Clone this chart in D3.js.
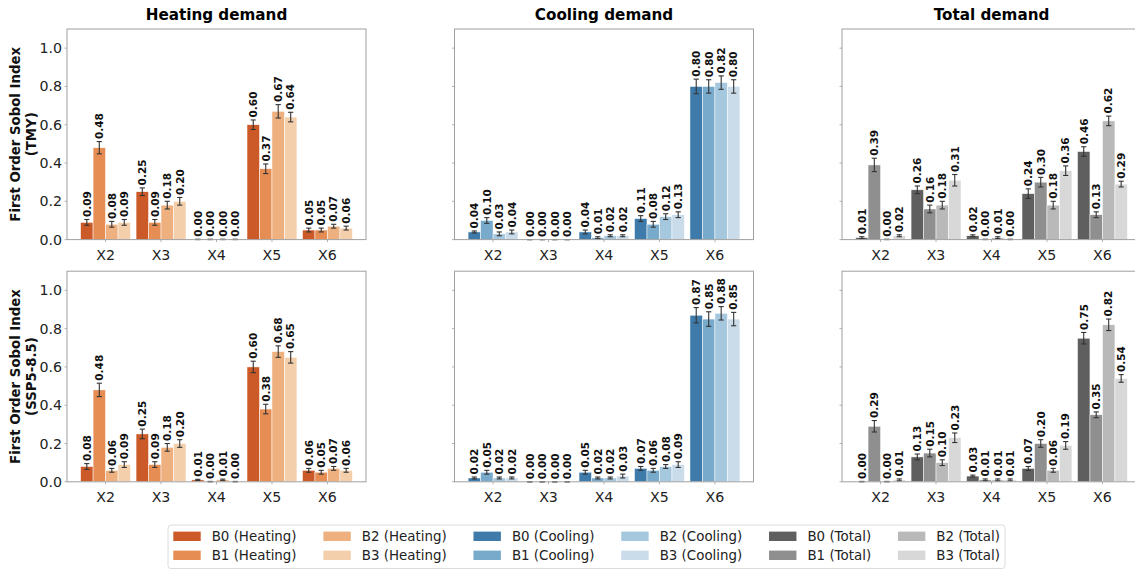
<!DOCTYPE html>
<html>
<head>
<meta charset="utf-8">
<script src="https://cdn.jsdelivr.net/npm/d3@7"></script>
<style>
  body { margin: 0; background: #fff; }
  svg { display: block; font-family: "DejaVu Sans", sans-serif; }
</style>
</head>
<body>
<svg id="chart" width="1135" height="571"></svg>
<script>
// ---------------- DATA ----------------
const categories = ["X2", "X3", "X4", "X5", "X6"];
const buildings = ["B0", "B1", "B2", "B3"];
const demandTitles = ["Heading demand".replace("Heading", "Heating"), "Cooling demand", "Total demand"];
const demandNames = ["Heating", "Cooling", "Total"];
const scenarioLabels = ["(TMY)", "(SSP5-8.5)"];
const yTicks = [0, 0.2, 0.4, 0.6, 0.8, 1.0];

// values[building][category]
const heatingTMY = [
  [0.09, 0.25, 0.00, 0.60, 0.05],
  [0.48, 0.09, 0.00, 0.37, 0.05],
  [0.08, 0.18, 0.00, 0.67, 0.07],
  [0.09, 0.20, 0.00, 0.64, 0.06]
];
const heatingTMYErr = [
  [0.015, 0.020, 0.002, 0.025, 0.010],
  [0.032, 0.015, 0.002, 0.025, 0.010],
  [0.015, 0.020, 0.002, 0.035, 0.010],
  [0.015, 0.020, 0.002, 0.025, 0.010]
];
const coolingTMY = [
  [0.04, 0.00, 0.04, 0.11, 0.80],
  [0.10, 0.00, 0.01, 0.08, 0.80],
  [0.03, 0.00, 0.02, 0.12, 0.82],
  [0.04, 0.00, 0.02, 0.13, 0.80]
];
const coolingTMYErr = [
  [0.005, 0.000, 0.010, 0.015, 0.038],
  [0.015, 0.000, 0.005, 0.015, 0.035],
  [0.010, 0.000, 0.005, 0.015, 0.035],
  [0.010, 0.000, 0.005, 0.015, 0.035]
];
const totalTMY = [
  [0.01, 0.26, 0.02, 0.24, 0.46],
  [0.39, 0.16, 0.00, 0.30, 0.13],
  [0.00, 0.18, 0.01, 0.18, 0.62],
  [0.02, 0.31, 0.00, 0.36, 0.29]
];
const totalTMYErr = [
  [0.005, 0.020, 0.005, 0.025, 0.025],
  [0.035, 0.020, 0.002, 0.025, 0.015],
  [0.002, 0.020, 0.005, 0.020, 0.025],
  [0.005, 0.030, 0.002, 0.025, 0.015]
];
const heatingSSP = [
  [0.08, 0.25, 0.01, 0.60, 0.06],
  [0.48, 0.09, 0.00, 0.38, 0.05],
  [0.06, 0.18, 0.01, 0.68, 0.07],
  [0.09, 0.20, 0.00, 0.65, 0.06]
];
const heatingSSPErr = [
  [0.015, 0.025, 0.003, 0.030, 0.010],
  [0.035, 0.015, 0.002, 0.025, 0.010],
  [0.010, 0.020, 0.004, 0.030, 0.010],
  [0.015, 0.020, 0.002, 0.030, 0.010]
];
const coolingSSP = [
  [0.02, 0.00, 0.05, 0.07, 0.87],
  [0.05, 0.00, 0.02, 0.06, 0.85],
  [0.02, 0.00, 0.02, 0.08, 0.88],
  [0.02, 0.00, 0.03, 0.09, 0.85]
];
const coolingSSPErr = [
  [0.005, 0.000, 0.010, 0.010, 0.040],
  [0.010, 0.000, 0.005, 0.010, 0.038],
  [0.005, 0.000, 0.005, 0.010, 0.035],
  [0.005, 0.000, 0.010, 0.015, 0.035]
];
const totalSSP = [
  [0.00, 0.13, 0.03, 0.07, 0.75],
  [0.29, 0.15, 0.01, 0.20, 0.35],
  [0.00, 0.10, 0.01, 0.06, 0.82],
  [0.01, 0.23, 0.01, 0.19, 0.54]
];
const totalSSPErr = [
  [0.002, 0.015, 0.005, 0.010, 0.030],
  [0.030, 0.020, 0.005, 0.020, 0.015],
  [0.002, 0.015, 0.005, 0.010, 0.030],
  [0.005, 0.025, 0.005, 0.020, 0.020]
];

const heatingColors = ["#cc5a28", "#e68d54", "#edb07e", "#f3cfab"];
const coolingColors = ["#3e7bab", "#78aacc", "#a5c8de", "#cadbea"];
const totalColors   = ["#5f5f5f", "#8f8f8f", "#b9b9b9", "#d8d8d8"];

// ---------------- LAYOUT ----------------
const svg = d3.select("#chart");
svg.append("rect").attr("width", 1135).attr("height", 571).attr("fill", "#fff");

const panelX = [67, 454.5, 842];
const panelY = [29, 271.2];
const panelW = 299;
const panelH = 210.6;
const barW = 0.225;
const tickColor = "#222";
const spineColor = "#a0a0a0";

const grid = [
  [[heatingTMY, heatingTMYErr], [coolingTMY, coolingTMYErr], [totalTMY, totalTMYErr]],
  [[heatingSSP, heatingSSPErr], [coolingSSP, coolingSSPErr], [totalSSP, totalSSPErr]]
];
const palettes = [heatingColors, coolingColors, totalColors];

const xmin = -2 * barW, xmax = categories.length - 1 + 2 * barW;
const marg = 0.05 * (xmax - xmin);
const fmt = d3.format(".2f");

grid.forEach((row, r) => {
  row.forEach(([vals, errs], c) => {
    const x0 = panelX[c], y0 = panelY[r];
    const x = d3.scaleLinear().domain([xmin - marg, xmax + marg]).range([x0, x0 + panelW]);
    const y = d3.scaleLinear().domain([0, 1.1]).range([y0 + panelH, y0]);
    const g = svg.append("g");

    // bars
    vals.forEach((series, b) => {
      const off = (b - 1.5) * barW;
      const color = palettes[c][b];
      const bg = g.append("g");
      bg.selectAll("rect").data(series).join("rect")
        .attr("x", (d, i) => x(i + off - barW / 2))
        .attr("width", x(barW) - x(0))
        .attr("y", d => y(d))
        .attr("height", d => y(0) - y(d))
        .attr("fill", color)
        .attr("stroke", "#fff").attr("stroke-width", 0.5);
    });
    // error bars + labels
    vals.forEach((series, b) => {
      const off = (b - 1.5) * barW;
      series.forEach((v, i) => {
        const e = errs[b][i];
        const cx = x(i + off);
        const lo = Math.max(0, v - e), hi = v + e;
        g.append("line").attr("x1", cx).attr("x2", cx)
          .attr("y1", y(lo)).attr("y2", y(hi))
          .attr("stroke", "#333").attr("stroke-width", 1.1);
        [lo, hi].forEach(t => {
          g.append("line").attr("x1", cx - 2.6).attr("x2", cx + 2.6)
            .attr("y1", y(t)).attr("y2", y(t))
            .attr("stroke", "#333").attr("stroke-width", 1.1);
        });
        const ly = y(hi) - 2.5;
        g.append("text")
          .attr("transform", `translate(${cx + 3.8},${ly}) rotate(-90)`)
          .attr("text-anchor", "start")
          .attr("font-size", 10.5).attr("font-weight", "bold")
          .attr("fill", "#111")
          .text(fmt(v));
      });
    });

    // frame
    g.append("rect").attr("x", x0).attr("y", y0).attr("width", panelW).attr("height", panelH)
      .attr("fill", "none").attr("stroke", spineColor).attr("stroke-width", 1);

    // y ticks
    yTicks.forEach(t => {
      g.append("line").attr("x1", x0 - 2.5).attr("x2", x0).attr("y1", y(t)).attr("y2", y(t))
        .attr("stroke", spineColor).attr("stroke-width", 0.8);
      if (c === 0) {
        g.append("text").attr("x", x0 - 5).attr("y", y(t) + 5)
          .attr("text-anchor", "end").attr("font-size", 14.2).attr("fill", tickColor)
          .text(t.toFixed(1));
      }
    });
    // x ticks
    categories.forEach((cat, i) => {
      g.append("line").attr("x1", x(i)).attr("x2", x(i)).attr("y1", y0 + panelH).attr("y2", y0 + panelH + 2.5)
        .attr("stroke", spineColor).attr("stroke-width", 0.8);
      g.append("text").attr("x", x(i)).attr("y", y0 + panelH + 20)
        .attr("text-anchor", "middle").attr("font-size", 14.2).attr("fill", tickColor)
        .text(cat);
    });

    if (r === 0) {
      svg.append("text").attr("x", x0 + panelW / 2).attr("y", 19.5)
        .attr("text-anchor", "middle").attr("font-size", 15.2).attr("font-weight", "bold")
        .attr("fill", "#000").text(demandTitles[c]);
    }
    if (c === 0) {
      const cy = y0 + panelH / 2;
      const yl = svg.append("text").attr("transform", `translate(20,${cy}) rotate(-90)`)
        .attr("text-anchor", "middle").attr("font-size", 13.3).attr("font-weight", "bold").attr("fill", "#111");
      yl.append("tspan").attr("x", 0).attr("dy", 0).text("First Order Sobol Index");
      yl.append("tspan").attr("x", 0).attr("dy", 15.5).text(scenarioLabels[r]);
    }
  });
});

// ---------------- LEGEND ----------------
const legendItems = [];
palettes.forEach((pal, c) => {
  buildings.forEach((b, i) => legendItems.push({ label: `${b} (${demandNames[c]})`, color: pal[i] }));
});
const leg = svg.append("g");
const legBox = leg.append("rect");
const fs = 13.4;
const rowY = [536.3, 555.3];
let cursor = 173.3;
for (let col = 0; col < 6; col++) {
  let maxW = 0;
  for (let rr = 0; rr < 2; rr++) {
    const it = legendItems[col * 2 + rr];
    leg.append("rect").attr("x", cursor).attr("y", rowY[rr] - 4.7).attr("width", 27.4).attr("height", 9.4)
      .attr("fill", it.color);
    const t = leg.append("text").attr("x", cursor + 38.4).attr("y", rowY[rr] + 4.8)
      .attr("font-size", fs).attr("fill", "#222").text(it.label);
    maxW = Math.max(maxW, t.node().getComputedTextLength());
  }
  cursor = cursor + 38.4 + maxW + 26.8;
}
legBox.attr("x", 168).attr("y", 525).attr("width", cursor - 26.8 + 5 - 168).attr("height", 43.5)
  .attr("rx", 3).attr("fill", "#fff").attr("stroke", "#dcdcdc").attr("stroke-width", 1);
</script>
</body>
</html>
